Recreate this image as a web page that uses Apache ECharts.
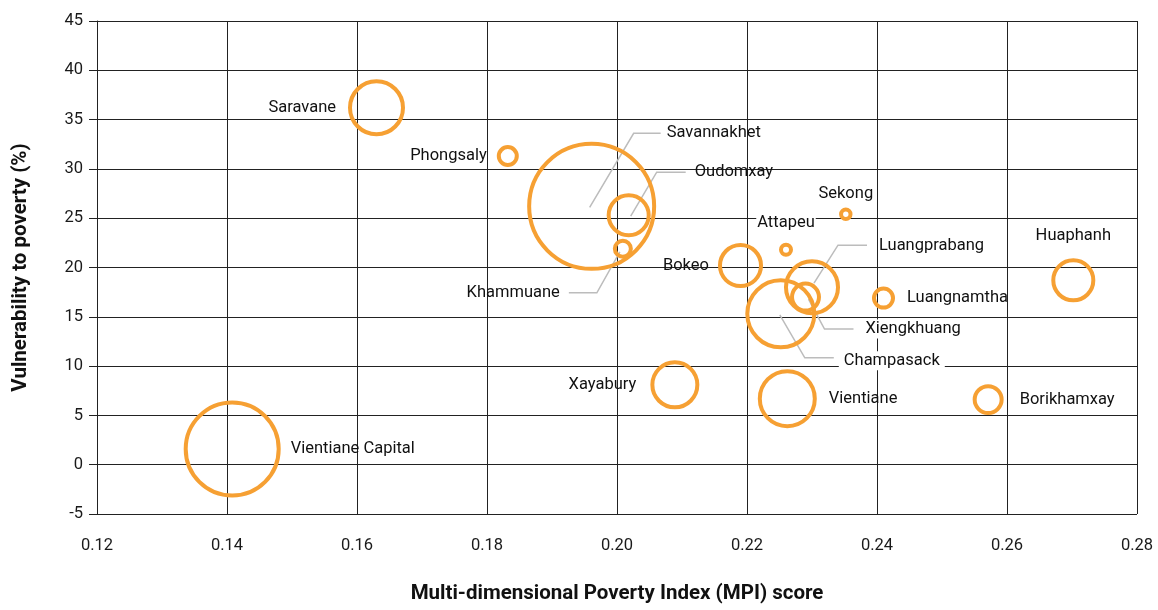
<!DOCTYPE html>
<html><head><meta charset="utf-8">
<script src="https://cdn.jsdelivr.net/npm/echarts@6/dist/echarts.min.js"></script>
<style>html,body{margin:0;padding:0;background:#fff}#c{width:1158px;height:610px}</style>
</head><body><div id="c"></div>
<script>
// ---- data ----
const provinces = ['Saravane','Vientiane Capital','Phongsaly','Savannakhet','Oudomxay','Khammuane','Bokeo','Xayabury','Sekong','Attapeu','Luangprabang','Xiengkhuang','Champasack','Luangnamtha','Huaphanh','Vientiane','Borikhamxay'];
const mpiScore = [0.163,0.1408,0.1832,0.1961,0.2018,0.2009,0.219,0.2089,0.2352,0.226,0.230,0.229,0.2252,0.241,0.2702,0.2262,0.2571];
const vulnerability = [36.2,1.6,31.3,26.2,25.3,21.9,20.2,8.1,25.4,21.8,18.0,17.0,15.3,16.9,18.7,6.7,6.6];
const bubbleWeight = [32.5,94.1,4.84,166.4,19.4,4.0,20.3,24.0,1.8,1.96,31.4,9.6,50.4,5.3,19.4,34.8,9.6];
const xTickLabels = ['0.12','0.14','0.16','0.18','0.20','0.22','0.24','0.26','0.28'];
const yTickLabels = ['-5','0','5','10','15','20','25','30','35','40','45'];

// ---- styling / label placement ----
const FONT = 'Roboto, "Liberation Sans", sans-serif';
const ORANGE = '#F6A033';
const RING = 4;
const labelPlacement = {
  'Saravane': {position:'left', distance:12},
  'Vientiane Capital': {position:'right', distance:10},
  'Phongsaly': {position:'left', distance:10},
  'Bokeo': {position:'left', distance:9},
  'Xayabury': {position:'left', distance:14},
  'Attapeu': {position:'top', distance:20, backgroundColor:'#fff', padding:[0,1]},
  'Sekong': {position:'top', distance:14},
  'Huaphanh': {position:'top', distance:22},
  'Luangnamtha': {position:'right', distance:12},
  'Vientiane': {position:'right', distance:12},
  'Borikhamxay': {position:'right', distance:16},
  'Savannakhet': {position:'inside', offset:[75,-73], align:'left'},
  'Oudomxay': {position:'inside', offset:[66,-43], align:'left'},
  'Khammuane': {position:'inside', offset:[-63,44], align:'right'},
  'Luangprabang': {position:'inside', offset:[67,-41], align:'left'},
  'Xiengkhuang': {position:'inside', offset:[55,32], align:'left', backgroundColor:'#fff', padding:[1,5]},
  'Champasack': {position:'inside', offset:[58,47], align:'left', backgroundColor:'#fff', padding:[1,5]}
};
const leaderPaths = {
  'Savannakhet': [[-2,1],[42,-73],[69,-73]],
  'Oudomxay': [[2,1],[28,-43],[57,-43]],
  'Khammuane': [[-3,3],[-26,44],[-54,44]],
  'Luangprabang': [[2,-4],[26,-42],[55,-42]],
  'Xiengkhuang': [[3,2],[19,32],[48,32]],
  'Champasack': [[-1,1],[24,44],[53,44]]
};

const scatterData = provinces.map((name,i)=>{
  const lp = labelPlacement[name] || {position:'right'};
  return {
    name: name,
    value: [mpiScore[i], vulnerability[i], bubbleWeight[i]],
    label: Object.assign({show:true, formatter:name, verticalAlign:'middle'}, lp)
  };
});
const leaderNames = provinces.filter(n=>leaderPaths[n]);
const leaderData = leaderNames.map(n=>{const i=provinces.indexOf(n); return [mpiScore[i], vulnerability[i]];});

const chart = echarts.init(document.getElementById('c'), null, {renderer:'canvas'});
const gridColor = '#222';
chart.setOption({
  animation:false,
  backgroundColor:'#fff',
  textStyle:{fontFamily:FONT},
  grid:{left:97, right:21, top:21, bottom:96},
  xAxis:{
    type:'value', min:0.12, max:0.28, interval:0.02,
    name:'Multi-dimensional Poverty Index (MPI) score',
    nameLocation:'middle', nameGap:69,
    nameTextStyle:{fontFamily:FONT, fontWeight:'bold', fontSize:20.5, color:'#111'},
    axisLine:{show:true, lineStyle:{color:gridColor, width:1}},
    axisTick:{show:true, length:8, lineStyle:{color:gridColor}},
    axisLabel:{margin:23, fontSize:16.5, color:'#1a1a1a', fontFamily:FONT,
      formatter:(v)=>{const k=Math.round((v-0.12)/0.02); return xTickLabels[k]!==undefined?xTickLabels[k]:v.toFixed(2);}},
    splitLine:{show:true, lineStyle:{color:gridColor, width:1}}
  },
  yAxis:{
    type:'value', min:-5, max:45, interval:5,
    name:'Vulnerability to poverty (%)',
    nameLocation:'middle', nameGap:66, nameRotate:90,
    nameTextStyle:{fontFamily:FONT, fontWeight:'bold', fontSize:20.5, color:'#111'},
    axisLine:{show:true, lineStyle:{color:gridColor, width:1}},
    axisTick:{show:true, length:8, lineStyle:{color:gridColor}},
    axisLabel:{margin:14, fontSize:16.5, color:'#1a1a1a', fontFamily:FONT,
      formatter:(v)=>{const k=Math.round((v+5)/5); return yTickLabels[k]!==undefined?yTickLabels[k]:String(v);}},
    splitLine:{show:true, lineStyle:{color:gridColor, width:1}}
  },
  series:[
    {
      type:'custom', z:1, silent:true,
      data: leaderData,
      renderItem:(params, api)=>{
        const p = api.coord([api.value(0), api.value(1)]);
        const pts = leaderPaths[leaderNames[params.dataIndex]].map(o=>[p[0]+o[0], p[1]+o[1]]);
        return {type:'polyline', shape:{points:pts}, style:{stroke:'#bcbcbc', lineWidth:1.5, fill:null}};
      }
    },
    {
      type:'scatter', z:3,
      data: scatterData,
      symbol:'circle',
      symbolSize:(v)=>Math.sqrt(v[2])*10 - RING,
      itemStyle:{color:'rgba(0,0,0,0)', borderColor:ORANGE, borderWidth:RING, opacity:1},
      label:{show:true, fontSize:16.5, color:'#111', fontFamily:FONT}
    }
  ]
});
</script></body></html>
